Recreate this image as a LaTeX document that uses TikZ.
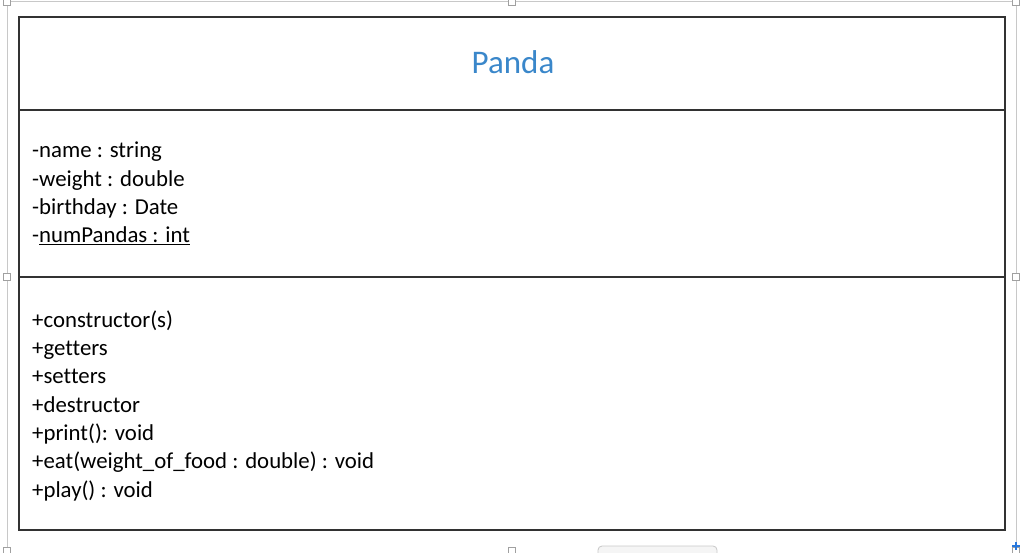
\documentclass[tikz,border=0pt]{standalone}
\usepackage{fontspec}
\setmainfont{Carlito}[Ligatures=NoCommon]
\definecolor{titleblue}{RGB}{58,135,202}
\definecolor{tableline}{RGB}{50,50,50}
\definecolor{framegray}{RGB}{200,200,200}
\definecolor{anchorblue}{RGB}{40,120,220}
\newcommand{\ulmember}[1]{\underline{#1}}
\begin{document}
\begin{tikzpicture}[x=1pt,y=-1pt,
  tbl/.style={draw=tableline,line width=1.8pt},
  frameline/.style={draw=framegray,line width=1pt},
  handle/.style={draw=framegray!80!black,fill=white,line width=0.8pt,minimum size=7pt,inner sep=0pt},
  member/.style={anchor=base west,inner sep=0pt,font=\fontsize{22.8}{26}\selectfont,text=black}]
\useasboundingbox (0,0) rectangle (1024,553);
% selection frame
\draw[frameline] (7,2) -- (1016,2);
\draw[frameline] (7,2) -- (7,553);
\draw[frameline] (1016,2) -- (1016,553);
\node[handle] (h1) at (7,2) {};
\node[handle] (h2) at (512,2) {};
\node[handle] (h3) at (1016,2) {};
\node[handle] (h4) at (7,277) {};
\node[handle] (h5) at (1016,277) {};
\node[handle] (h6) at (7,551) {};
\node[handle] (h7) at (512,551) {};
\node[handle] (h8) at (1016,551) {};
\draw[draw=framegray,fill=black!4,rounded corners=4pt,line width=0.8pt] (598,557) rectangle (717,546);
\draw[anchorblue,line width=1.2pt] (1012,546) -- (1020,546) (1016,542) -- (1016,550);
% class box
\draw[tbl] (19,17) rectangle (1005,530);
\draw[tbl] (19,110) -- (1005,110);
\draw[tbl] (19,277) -- (1005,277);
\node[anchor=base,inner sep=0pt,text=titleblue,font=\fontsize{33}{38}\selectfont] (title) at (513,74) {Panda};
% attributes
\node[member] (a1) at (32,158) {-name : string};
\node[member] (a2) at (32,186.3) {-weight : double};
\node[member] (a3) at (32,214.6) {-birthday : Date};
\node[member] (a4) at (32,243) {-\ulmember{numPandas : int}};
% operations
\node[member] (o1) at (32,327) {+constructor(s)};
\node[member] (o2) at (32,355.3) {+getters};
\node[member] (o3) at (32,383.6) {+setters};
\node[member] (o4) at (32,412) {+destructor};
\node[member] (o5) at (32,440.3) {+print(): void};
\node[member] (o6) at (32,468.6) {+eat(weight\_of\_food : double) : void};
\node[member] (o7) at (32,497) {+play() : void};
\end{tikzpicture}
\end{document}
